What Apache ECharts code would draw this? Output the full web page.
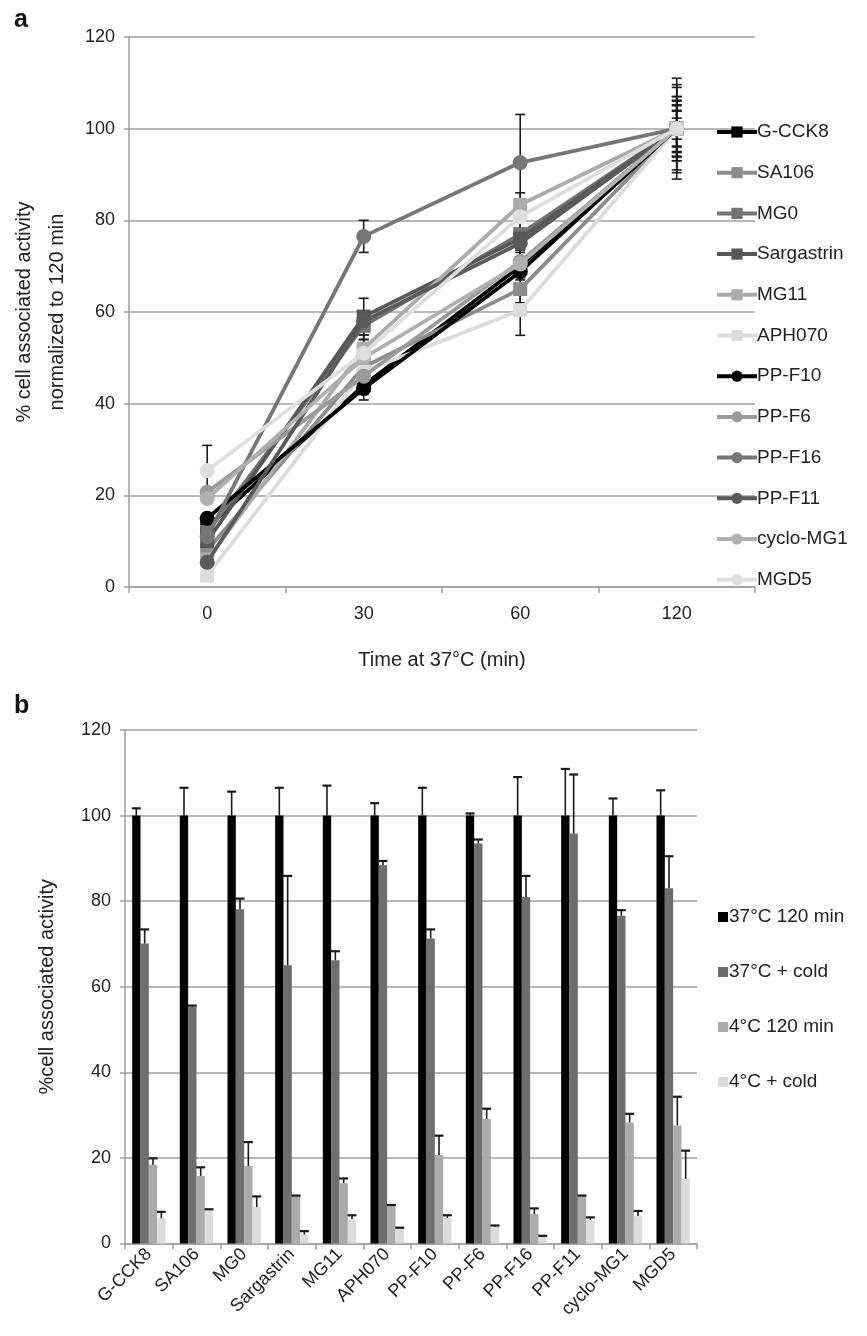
<!DOCTYPE html>
<html><head><meta charset="utf-8">
<script src="https://cdn.jsdelivr.net/npm/echarts@6/dist/echarts.min.js"></script>
<style>html,body{margin:0;padding:0;background:#fff}#c{width:867px;height:1336px}</style>
</head><body><div id="c"></div>
<script>
// ---------- Panel a data ----------
const timeCats = ['0', '30', '60', '120'];
const compounds = ['G-CCK8','SA106','MG0','Sargastrin','MG11','APH070','PP-F10','PP-F6','PP-F16','PP-F11','cyclo-MG1','MGD5'];
const G_CCK8     = [13, 44, 70, 100];
const SA106      = [8, 48, 65, 100];
const MG0        = [12, 57, 77, 100];
const Sargastrin = [10, 59, 76, 100];
const MG11       = [6, 52, 83.4, 100];
const APH070     = [2.5, 47, 60.4, 100];
const PP_F10     = [15, 43.3, 68.8, 100];
const PP_F6      = [20.7, 46, 71, 100];
const PP_F16     = [11, 76.5, 92.6, 100];
const PP_F11     = [5.4, 58, 75, 100];
const cyclo_MG1  = [19.3, 50, 70.5, 100];
const MGD5       = [25.4, 51, 80.8, 100];
const err_G_CCK8     = [1, 2, 3, 6];
const err_SA106      = [1, 2, 3, 5];
const err_MG0        = [1, 3, 3, 9.6];
const err_Sargastrin = [1, 4, 4, 7];
const err_MG11       = [1, 3, 2.6, 11];
const err_APH070     = [1, 2, 5.5, 3.8];
const err_PP_F10     = [1, 2.5, 3, 2.3];
const err_PP_F6      = [1, 2, 3, 6.2];
const err_PP_F16     = [1, 3.5, 10.5, 5.2];
const err_PP_F11     = [1, 2, 3, 7];
const err_cyclo_MG1  = [1, 2, 3, 4];
const err_MGD5       = [5.5, 3, 3, 9];

// ---------- Panel b data ----------
const condNames = ['37°C 120 min', '37°C + cold', '4°C 120 min', '4°C + cold'];
const b37      = [100,100,100,100,100,100,100,100,100,100,100,100];
const b37err   = [1.7, 6.5, 5.6, 6.5, 7, 2.9, 6.5, 0.5, 9, 10.9, 4, 5.9];
const b37cold  = [70.1, 55.3, 78.1, 65, 66.2, 88.4, 71.3, 93.5, 81, 95.8, 76.6, 83];
const b37coldErr = [3.3, 0.3, 2.5, 20.9, 2.1, 1, 2.1, 0.9, 4.9, 13.8, 1.3, 7.5];
const b4       = [18.4, 15.8, 18.1, 11.1, 14.1, 8.8, 20.7, 29.1, 6.9, 11.1, 28.3, 27.6];
const b4err    = [1.5, 2, 5.6, 0.1, 1.1, 0.2, 4.5, 2.4, 1.3, 0.1, 2, 6.7];
const b4cold   = [5.9, 7.8, 8.5, 2.1, 5.7, 3.6, 6, 3.9, 1.6, 5.5, 6.4, 15.1];
const b4coldErr = [1.5, 0.2, 2.5, 0.8, 0.9, 0.1, 0.6, 0.3, 0.2, 0.6, 1.2, 6.6];

const FONT = 'Liberation Sans, Arial, sans-serif';
const lineVals = [G_CCK8,SA106,MG0,Sargastrin,MG11,APH070,PP_F10,PP_F6,PP_F16,PP_F11,cyclo_MG1,MGD5];
const lineErrs = [err_G_CCK8,err_SA106,err_MG0,err_Sargastrin,err_MG11,err_APH070,err_PP_F10,err_PP_F6,err_PP_F16,err_PP_F11,err_cyclo_MG1,err_MGD5];
const lineColors = ['#000000','#8c8c8c','#747474','#575757','#ababab','#dcdcdc','#000000','#9a9a9a','#767676','#5a5a5a','#b0b0b0','#dedede'];
const lineSymbols = ['rect','rect','rect','rect','rect','rect','circle','circle','circle','circle','circle','circle'];

const barVals = [b37, b37cold, b4, b4cold];
const barErrs = [b37err, b37coldErr, b4err, b4coldErr];
const barColors = ['#000000','#6e6e6e','#ababab','#dcdcdc'];

const series = [];
const errAData = [];
lineVals.forEach((vals, s) => vals.forEach((v, i) => errAData.push([i, v, lineErrs[s][i]])));
series.push({
  type: 'custom', xAxisIndex: 0, yAxisIndex: 0, z: 1, silent: true,
  encode: {x: 0, y: 1},
  data: errAData,
  renderItem: function (params, api) {
    const x = api.value(0), v = api.value(1), e = api.value(2);
    const hi = api.coord([x, v + e]), lo = api.coord([x, v - e]);
    const w = 5, st = {stroke: '#1a1a1a', lineWidth: 1.6};
    return {type: 'group', children: [
      {type: 'line', shape: {x1: hi[0], y1: hi[1], x2: lo[0], y2: lo[1]}, style: st},
      {type: 'line', shape: {x1: hi[0]-w, y1: hi[1], x2: hi[0]+w, y2: hi[1]}, style: st},
      {type: 'line', shape: {x1: lo[0]-w, y1: lo[1], x2: lo[0]+w, y2: lo[1]}, style: st}
    ]};
  }
});
compounds.forEach((name, s) => {
  series.push({
    name: name, type: 'line', xAxisIndex: 0, yAxisIndex: 0, z: 2 + s * 0.01,
    data: lineVals[s], symbol: lineSymbols[s], symbolSize: lineSymbols[s] === 'rect' ? 14 : 15,
    lineStyle: {color: lineColors[s], width: 3.8},
    itemStyle: {color: lineColors[s]}, emphasis: {disabled: true}, animation: false
  });
});
condNames.forEach((name, s) => {
  series.push({
    name: name, type: 'bar', xAxisIndex: 1, yAxisIndex: 1, data: barVals[s],
    barGap: '0%', barCategoryGap: '30%', itemStyle: {color: barColors[s]}, animation: false
  });
});
condNames.forEach((name, s) => {
  series.push({
    type: 'custom', xAxisIndex: 1, yAxisIndex: 1, z: 3, silent: true,
    encode: {x: 0, y: 1},
    data: barVals[s].map((v, i) => [i, v, barErrs[s][i]]),
    renderItem: function (params, api) {
      const x = api.value(0), v = api.value(1), e = api.value(2);
      const catW = api.size([1, 0])[0];
      const groupW = catW * 0.7, bw = groupW / 4;
      const off = -groupW / 2 + bw * (s + 0.5);
      const top = api.coord([x, v + e]), base = api.coord([x, v]);
      const cx = top[0] + off, w = 4.5, st = {stroke: '#1a1a1a', lineWidth: 1.6};
      return {type: 'group', children: [
        {type: 'line', shape: {x1: cx, y1: base[1], x2: cx, y2: top[1]}, style: st},
        {type: 'line', shape: {x1: cx - w, y1: top[1], x2: cx + w, y2: top[1]}, style: {stroke: '#1a1a1a', lineWidth: 2.2}}
      ]};
    }
  });
});

const axisLineGray = {lineStyle: {color: '#a0a0a0', width: 1.5}};
const option = {
  animation: false,
  textStyle: {fontFamily: FONT},
  graphic: [
    {type: 'text', left: 14, top: 8, style: {text: 'a', font: 'bold 25px ' + FONT, fill: '#111'}},
    {type: 'text', left: 14, top: 694, style: {text: 'b', font: 'bold 25px ' + FONT, fill: '#111'}}
  ],
  grid: [
    {left: 127, right: 112, top: 37, height: 550, containLabel: false},
    {left: 125, right: 170, top: 730, height: 513.5, containLabel: false}
  ],
  legend: [
    {data: compounds, orient: 'vertical', left: 710, top: 117, itemWidth: 40, itemHeight: 14, itemGap: 20.7,
     selectedMode: false, lineStyle: {width: 4},
     textStyle: {fontSize: 19, lineHeight: 20, color: '#222', fontFamily: FONT, padding: [0,0,0,-5]}},
    {data: condNames, orient: 'vertical', left: 713, top: 902, itemWidth: 10, itemHeight: 10, itemGap: 35,
     icon: 'rect', selectedMode: false,
     textStyle: {fontSize: 19, lineHeight: 20, color: '#222', fontFamily: FONT, padding: [0,0,0,-4]}}
  ],
  xAxis: [
    {type: 'category', gridIndex: 0, data: timeCats, boundaryGap: true,
     axisLine: axisLineGray, axisTick: {show: true, length: 6, alignWithLabel: false, lineStyle: {color: '#a0a0a0', width: 1.5}},
     axisLabel: {fontSize: 18, color: '#222', margin: 18},
     name: 'Time at 37°C (min)', nameLocation: 'middle', nameGap: 63,
     nameTextStyle: {fontSize: 20, color: '#222'}},
    {type: 'category', gridIndex: 1, data: compounds, boundaryGap: true,
     axisLine: axisLineGray, axisTick: {show: true, length: 6, alignWithLabel: false, lineStyle: {color: '#a0a0a0', width: 1.5}},
     axisLabel: {fontSize: 18, color: '#222', rotate: 45, margin: 8, interval: 0}}
  ],
  yAxis: [
    {type: 'value', gridIndex: 0, min: 0, max: 120, interval: 20,
     axisLine: {show: true, lineStyle: {color: '#a0a0a0', width: 1.5}},
     axisTick: {show: true, length: 5, lineStyle: {color: '#a0a0a0', width: 1.5}},
     splitLine: {lineStyle: {color: '#a0a0a0', width: 1.5}},
     axisLabel: {fontSize: 18, color: '#222', margin: 14},
     name: '% cell associated activity\nnormalized to 120 min', nameLocation: 'middle', nameGap: 52,
     nameTextStyle: {fontSize: 20, color: '#222', lineHeight: 33}},
    {type: 'value', gridIndex: 1, min: 0, max: 120, interval: 20,
     axisLine: {show: true, lineStyle: {color: '#a0a0a0', width: 1.5}},
     axisTick: {show: true, length: 5, lineStyle: {color: '#a0a0a0', width: 1.5}},
     splitLine: {lineStyle: {color: '#a0a0a0', width: 1.5}},
     axisLabel: {fontSize: 18, color: '#222', margin: 14},
     name: '%cell associated activity', nameLocation: 'middle', nameGap: 68,
     nameTextStyle: {fontSize: 20, color: '#222'}}
  ],
  series: series
};
const chart = echarts.init(document.getElementById('c'), null, {renderer: 'canvas'});
chart.setOption(option);
</script>
</body></html>
